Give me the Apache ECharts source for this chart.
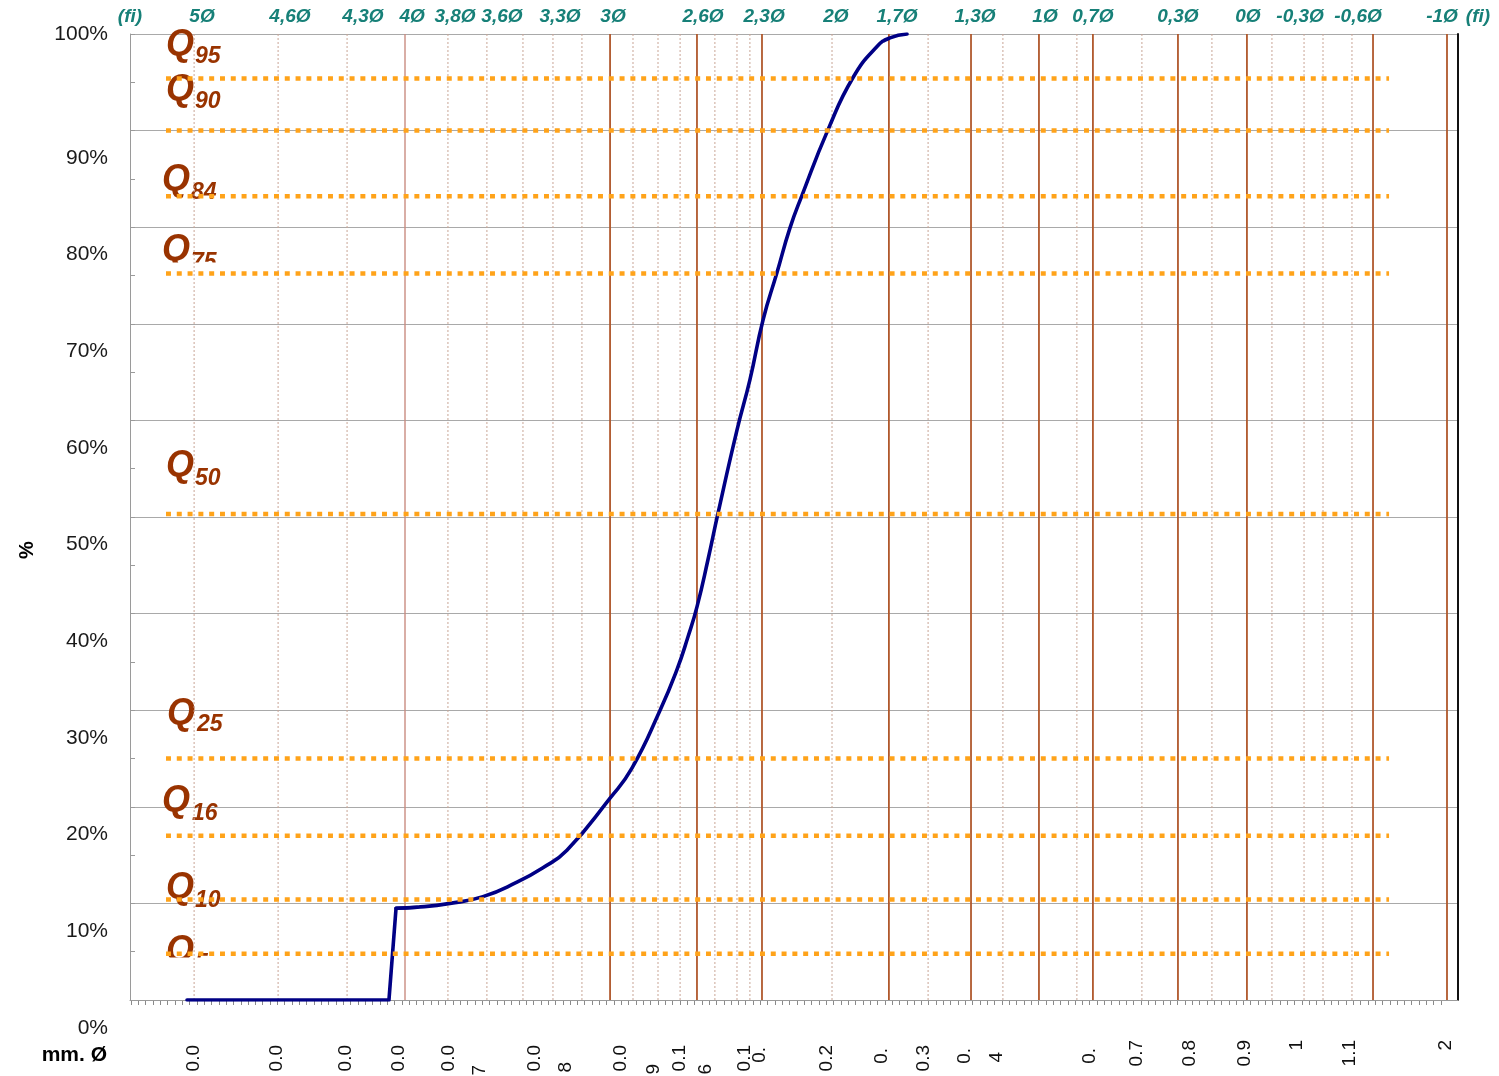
<!DOCTYPE html>
<html><head><meta charset="utf-8">
<script src="https://cdn.jsdelivr.net/npm/echarts@6/dist/echarts.min.js"></script>
<style>html,body{margin:0;padding:0;background:#fff}#c{width:1499px;height:1076px}</style>
</head><body><div id="c"></div>
<script>
// ---------- DATA (x in phi units, y in %) ----------
const curvePhi = [5.046, 4.077, 4.043, 3.942, 3.784, 3.626, 3.463, 3.338, 3.223, 3.016, 2.911, 2.776, 2.695, 2.642, 2.599, 2.546, 2.498, 2.407, 2.345, 2.282, 2.215, 2.153, 2.095, 1.970, 1.850, 1.735, 1.673, 1.591];
const curvePct = [0, 0, 9.5, 9.6, 10.0, 10.7, 12.2, 13.7, 15.5, 20.9, 24.0, 30.0, 34.2, 37.6, 40.7, 45.6, 50.4, 59.0, 64.2, 70.4, 75.3, 79.9, 83.3, 90.1, 95.5, 98.7, 99.6, 100];

const qNames  = ['95', '90', '84', '75', '50', '25', '16', '10', '5'];
const qLevels = [95.4, 90.0, 83.2, 75.2, 50.3, 25.0, 17.0, 10.4, 4.8];
const qFrom = 5.147, qTo = -0.722;

const lightSievePhi  = [4.000];
const solidSievePhi  = [3.016, 2.599, 2.287, 1.678, 1.284, 0.958, 0.699, 0.291, -0.040, -0.645, -1.000];
const dottedSievePhi = [5.012, 4.609, 4.278, 3.794, 3.607, 3.434, 3.290, 3.151, 2.906, 2.786, 2.680, 2.513, 2.407, 2.345, 1.951, 1.490, 1.131, 0.776, 0.464, 0.128, -0.160, -0.314, -0.405, -0.544];

const topLabels   = ['5Ø','4,6Ø','4,3Ø','4Ø','3,8Ø','3,6Ø','3,3Ø','3Ø','2,6Ø','2,3Ø','2Ø','1,7Ø','1,3Ø','1Ø','0,7Ø','0,3Ø','0Ø','-0,3Ø','-0,6Ø','-1Ø'];
const topLabelPhi = [4.974, 4.552, 4.202, 3.966, 3.760, 3.535, 3.256, 3.002, 2.570, 2.277, 1.932, 1.639, 1.265, 0.929, 0.699, 0.291, -0.045, -0.295, -0.573, -0.976];

const mmLabels   = ['0.0','0.0','0.0','0.0','0.0','7','0.0','8','0.0','9','0.1','6','0.1','0.','0.2','0.','0.3','0.','4','0.','0.7','0.8','0.9','1','1.1','2'];
const mmLabelPhi = [5.012, 4.614, 4.283, 4.029, 3.789, 3.640, 3.376, 3.228, 2.964, 2.805, 2.680, 2.556, 2.369, 2.297, 1.975, 1.711, 1.510, 1.313, 1.159, 0.713, 0.488, 0.233, -0.031, -0.280, -0.535, -0.995];

const yTickLabels = ['0%','10%','20%','30%','40%','50%','60%','70%','80%','90%','100%'];
const yTickPos    = [0, 10, 20, 30, 40, 50, 60, 70, 80, 90, 102.8];

// ---------- LAYOUT / STYLE ----------
const FONT = '"Liberation Sans", Arial, Helvetica, sans-serif';
const X_MIN = -1.0528, X_MAX = 5.3196;
const TEAL = '#178078', QCOL = '#993300', ORANGE = '#ffa31a';
const mmTopY = [1045,1045,1045,1045,1045,1065,1045,1062,1045,1064,1045,1064,1045,1047,1045,1048,1045,1048,1052,1048,1040,1040,1040,1040,1040,1040];
const qLayout = [ // [Qx, Qy, subX, subY]
  [166, 45, 195, 57], [166, 90, 195, 102], [162, 180, 191, 193], [162, 250, 191, 263],
  [166, 466, 195, 479], [167, 714, 197, 725], [162, 801, 192, 814], [166, 888, 195, 901], [166, 951, 195, 964]
];

const chart = echarts.init(document.getElementById('c'));
const tickCats = Array.from({length: 180}, (_, i) => i);

function near(arr, v) { let b = 0; for (let i = 1; i < arr.length; i++) if (Math.abs(arr[i]-v) < Math.abs(arr[b]-v)) b = i; return b; }

const series = [];
const vline = (v, style) => ({
  type: 'line', xAxisIndex: 0, yAxisIndex: 0, silent: true, symbol: 'none', z: 2,
  data: [[v, 0], [v, 100]], lineStyle: style
});
dottedSievePhi.forEach(v => series.push(vline(v, {color: '#c9a596', width: 1, type: [2, 2]})));
lightSievePhi.forEach(v => series.push(vline(v, {color: '#c98c80', width: 1.4})));
solidSievePhi.forEach(v => series.push(vline(v, {color: '#b0582c', width: 1.8})));
const curveData = curvePhi.map((p, i) => [p, curvePct[i]]);
const curveStyle = {color: '#000085', width: 3.6, join: 'round', cap: 'round'};
// step part (sharp corners) and smooth grading part
series.push({type: 'line', xAxisIndex: 0, yAxisIndex: 0, silent: true, symbol: 'none', z: 3,
  data: curveData.slice(0, 4), lineStyle: curveStyle});
series.push({type: 'line', xAxisIndex: 0, yAxisIndex: 0, silent: true, symbol: 'none', z: 3,
  smooth: 0.5, data: curveData.slice(2), lineStyle: curveStyle});
qLevels.forEach(l => series.push({
  type: 'line', xAxisIndex: 0, yAxisIndex: 0, silent: true, symbol: 'none', z: 4,
  data: [[qFrom, l], [qTo, l]],
  lineStyle: {color: ORANGE, width: 4.5, type: [5, 5.8], cap: 'butt'}
}));

chart.setOption({
  animation: false,
  backgroundColor: '#fff',
  grid: [
    {left: 130, right: 41, top: 34, bottom: 76},
    {left: 130, right: 41, top: 34, bottom: 48},
    {left: 131, width: 1310, top: 34, bottom: 75}
  ],
  xAxis: [
    {gridIndex: 0, type: 'value', min: X_MIN, max: X_MAX, inverse: true,
     axisLine: {show: true, onZero: false, lineStyle: {color: '#9a9a9a'}}, axisTick: {show: false}, axisLabel: {show: false}, splitLine: {show: false}},
    {gridIndex: 0, type: 'value', position: 'top', min: X_MIN, max: X_MAX, inverse: true,
     axisLine: {show: false, onZero: false}, axisTick: {show: false}, splitLine: {show: false},
     axisLabel: {show: true, customValues: topLabelPhi, margin: 8, color: TEAL, fontSize: 19, fontWeight: 'bold', fontStyle: 'italic', fontFamily: FONT,
       formatter: v => topLabels[near(topLabelPhi, v)]}},
    {gridIndex: 1, type: 'value', show: false, min: 0, max: 1},
    {gridIndex: 2, type: 'category', data: tickCats, boundaryGap: false,
     axisLine: {show: false}, axisTick: {show: true, interval: 0, length: 4, lineStyle: {color: '#8a8a8a'}},
     axisLabel: {show: false}, splitLine: {show: false}}
  ],
  yAxis: [
    {gridIndex: 0, type: 'value', min: 0, max: 100, interval: 10,
     axisLine: {show: true, onZero: false, lineStyle: {color: '#9a9a9a'}},
     axisTick: {show: true, inside: true, length: 5, lineStyle: {color: '#9a9a9a'}},
     minorTick: {show: true, splitNumber: 2, length: 5, lineStyle: {color: '#9a9a9a'}},
     axisLabel: {show: false}, splitLine: {show: true, lineStyle: {color: '#a9a9a9', width: 1}}},
    {gridIndex: 0, type: 'value', position: 'right', min: 0, max: 100,
     axisLine: {show: true, onZero: false, lineStyle: {color: '#111', width: 2}}, axisTick: {show: false}, axisLabel: {show: false}, splitLine: {show: false}},
    {gridIndex: 1, type: 'value', min: 0, max: 102.8,
     axisLine: {show: false, onZero: false}, axisTick: {show: false}, splitLine: {show: false},
     axisLabel: {show: true, customValues: yTickPos, margin: 22, color: '#1a1a1a', fontSize: 21, fontFamily: FONT,
       formatter: v => yTickLabels[near(yTickPos, v)]}},
    {gridIndex: 2, type: 'value', show: false, min: 0, max: 1}
  ],
  series: series
});

// ---------- annotation text ----------
const g = [];
const txt = (x, y, text, o) => Object.assign({type: 'text', x, y, silent: true, z: 0,
  style: Object.assign({text, fontFamily: FONT, fill: '#000', align: 'center', verticalAlign: 'middle'}, o.style || {})}, o.el || {});
g.push(txt(130, 17, '(fi)', {style: {fill: TEAL, fontSize: 19, fontWeight: 'bold', fontStyle: 'italic'}}));
g.push(txt(1478, 17, '(fi)', {style: {fill: TEAL, fontSize: 19, fontWeight: 'bold', fontStyle: 'italic'}}));
g.push(txt(27, 550, '%', {style: {fontSize: 20, fontWeight: 'bold'}, el: {rotation: Math.PI / 2}}));
g.push(txt(107, 1055, 'mm. Ø', {style: {fontSize: 21, fontWeight: 'bold', align: 'right'}}));
qNames.forEach((n, i) => {
  const L = qLayout[i];
  g.push(txt(L[0], L[1], 'Q', {style: {fill: QCOL, fontSize: 36, fontWeight: 'bold', fontStyle: 'italic', align: 'left'}}));
  g.push(txt(L[2], L[3], n, {style: {fill: QCOL, fontSize: 23, fontWeight: 'bold', fontStyle: 'italic', align: 'left'}}));
});
g.push({type: 'rect', silent: true, z: 1, shape: {x: 158, y: 262.5, width: 75, height: 9}, style: {fill: '#fff'}});
g.push({type: 'rect', silent: true, z: 1, shape: {x: 158, y: 957.5, width: 75, height: 36}, style: {fill: '#fff'}});
mmLabels.forEach((t, i) => {
  const x = chart.convertToPixel({xAxisIndex: 0}, mmLabelPhi[i]);
  g.push(txt(x, mmTopY[i], t, {style: {fontSize: 19, align: 'right', fill: '#111'}, el: {rotation: Math.PI / 2}}));
});
chart.setOption({graphic: {elements: g}});
</script></body></html>
